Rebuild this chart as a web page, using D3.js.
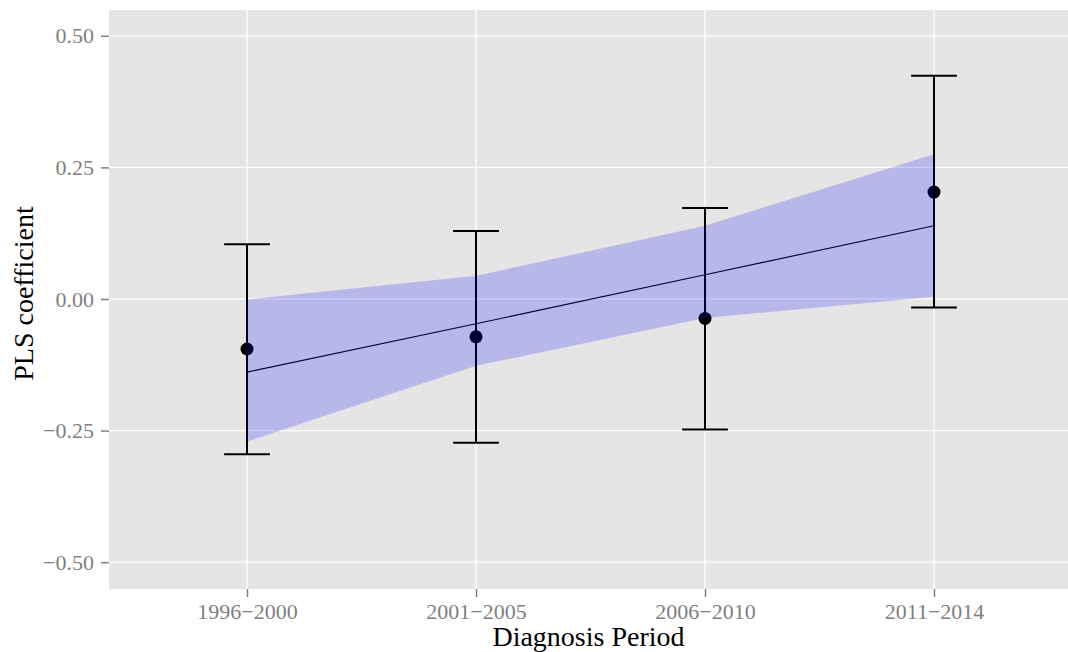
<!DOCTYPE html>
<html>
<head>
<meta charset="utf-8">
<script src="https://cdn.jsdelivr.net/npm/d3@7"></script>
<style>
  body { margin: 0; background: #fff; }
  svg { display: block; }
</style>
</head>
<body>
<div id="chart"></div>
<script>
const periods = ["1996\u22122000", "2001\u22122005", "2006\u22122010", "2011\u22122014"];
const coef = [-0.095, -0.072, -0.037, 0.203];
const errLower = [-0.295, -0.273, -0.248, -0.016];
const errUpper = [0.104, 0.129, 0.173, 0.424];
const fitValues = [-0.139, -0.047, 0.046, 0.139];
const bandLower = [-0.271, -0.127, -0.036, 0.004];
const bandUpper = [-0.001, 0.044, 0.139, 0.275];
const yTicks = [-0.5, -0.25, 0, 0.25, 0.5];

const W = 1068, H = 652;
const panel = { left: 109, right: 1068, top: 10, bottom: 589 };

const svg = d3.select("#chart").append("svg")
  .attr("width", W)
  .attr("height", H);

const x = d3.scalePoint()
  .domain(periods)
  .range([panel.left + 138, panel.left + 138 + 3 * 229]);

const y = d3.scaleLinear()
  .domain([-0.551, 0.549])
  .range([panel.bottom, panel.top]);

const data = periods.map((p, i) => ({
  p, coef: coef[i], lo: errLower[i], hi: errUpper[i],
  fit: fitValues[i], bl: bandLower[i], bu: bandUpper[i]
}));

// panel background
svg.append("rect")
  .attr("x", panel.left)
  .attr("y", panel.top)
  .attr("width", panel.right - panel.left)
  .attr("height", panel.bottom - panel.top)
  .attr("fill", "#e5e5e5");

// grid lines
svg.append("g").selectAll("line")
  .data(yTicks)
  .join("line")
  .attr("x1", panel.left).attr("x2", panel.right)
  .attr("y1", d => y(d)).attr("y2", d => y(d))
  .attr("stroke", "#fff").attr("stroke-width", 1.3);

svg.append("g").selectAll("line")
  .data(periods)
  .join("line")
  .attr("x1", d => x(d)).attr("x2", d => x(d))
  .attr("y1", panel.top).attr("y2", panel.bottom)
  .attr("stroke", "#fff").attr("stroke-width", 1.3);

// y axis
const yAxis = svg.append("g")
  .attr("transform", `translate(${panel.left},0)`)
  .call(d3.axisLeft(y).tickValues(yTicks).tickSize(8).tickPadding(7)
    .tickFormat(d => d3.format(".2f")(d).replace("-", "\u2212")));
yAxis.select(".domain").remove();
yAxis.selectAll(".tick line").attr("stroke", "#7f7f7f").attr("stroke-width", 1.5);
yAxis.selectAll(".tick text")
  .attr("fill", "#7f7f7f")
  .style("font-family", "'Liberation Serif', 'Times New Roman', serif")
  .style("font-size", "22px");

// x axis
const xAxis = svg.append("g")
  .attr("transform", `translate(0,${panel.bottom})`)
  .call(d3.axisBottom(x).tickSize(8).tickPadding(6));
xAxis.select(".domain").remove();
xAxis.selectAll(".tick line").attr("stroke", "#7f7f7f").attr("stroke-width", 1.5);
xAxis.selectAll(".tick text")
  .attr("fill", "#7f7f7f")
  .style("font-family", "'Liberation Serif', 'Times New Roman', serif")
  .style("font-size", "22px");

// error bars
const capHalf = (x.step() * 0.2) / 2;
const eb = svg.append("g");
eb.selectAll(".stem")
  .data(data)
  .join("line")
  .attr("x1", d => x(d.p)).attr("x2", d => x(d.p))
  .attr("y1", d => y(d.lo)).attr("y2", d => y(d.hi))
  .attr("stroke", "#000").attr("stroke-width", 2);
eb.selectAll(".capTop")
  .data(data)
  .join("line")
  .attr("x1", d => x(d.p) - capHalf).attr("x2", d => x(d.p) + capHalf)
  .attr("y1", d => y(d.hi)).attr("y2", d => y(d.hi))
  .attr("stroke", "#000").attr("stroke-width", 2);
eb.selectAll(".capBot")
  .data(data)
  .join("line")
  .attr("x1", d => x(d.p) - capHalf).attr("x2", d => x(d.p) + capHalf)
  .attr("y1", d => y(d.lo)).attr("y2", d => y(d.lo))
  .attr("stroke", "#000").attr("stroke-width", 2);

// points
svg.append("g").selectAll("circle")
  .data(data)
  .join("circle")
  .attr("cx", d => x(d.p))
  .attr("cy", d => y(d.coef))
  .attr("r", 6.5)
  .attr("fill", "#000");

// fitted line
svg.append("path")
  .datum(data)
  .attr("fill", "none")
  .attr("stroke", "#000")
  .attr("stroke-width", 1.1)
  .attr("d", d3.line().x(d => x(d.p)).y(d => y(d.fit)));

// confidence band (drawn on top, translucent)
svg.append("path")
  .datum(data)
  .attr("fill", "#0000ff")
  .attr("fill-opacity", 0.2)
  .attr("d", d3.area().x(d => x(d.p)).y0(d => y(d.bl)).y1(d => y(d.bu)));

// axis titles
svg.append("text")
  .attr("x", (panel.left + panel.right) / 2)
  .attr("y", 646)
  .attr("text-anchor", "middle")
  .style("font-family", "'Liberation Serif', 'Times New Roman', serif")
  .style("font-size", "28px")
  .text("Diagnosis Period");

svg.append("text")
  .attr("transform", `translate(33,${(panel.top + panel.bottom) / 2 - 6}) rotate(-90)`)
  .attr("text-anchor", "middle")
  .style("font-family", "'Liberation Serif', 'Times New Roman', serif")
  .style("font-size", "28px")
  .text("PLS coefficient");
</script>
</body>
</html>
